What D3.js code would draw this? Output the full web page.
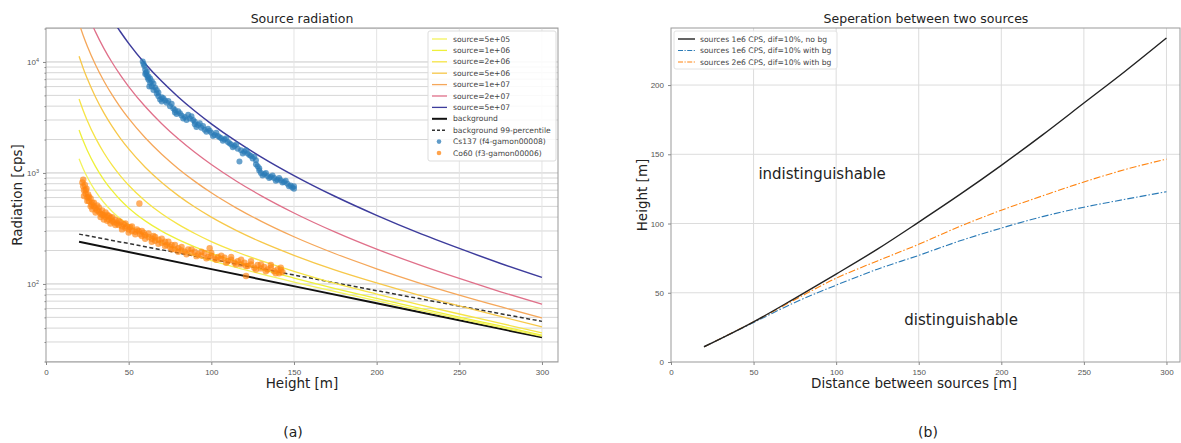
<!DOCTYPE html>
<html>
<head>
<meta charset="utf-8">
<script src="https://cdn.jsdelivr.net/npm/d3@7"></script>
<style>
  body { margin: 0; background: #fff; }
  svg { font-family: "DejaVu Sans", sans-serif; }
  .tick text { fill: #555; font-size: 8px; }
  .tick line { stroke: #888; }
  .domain { display: none; }
</style>
</head>
<body>
<svg id="chart" width="1181" height="443"></svg>
<script>
// ---- panel (a) data: radiation vs height ----
const heights = [20, 22.5, 25, 30, 35, 40, 45, 50, 60, 70, 80, 90, 100, 115, 130, 150, 175, 200, 225, 250, 275, 300];
const src5e5 = [1340, 1091, 914, 682, 542, 450, 386, 339, 276, 234, 204, 181, 162, 141, 123, 104, 85.4, 70.6, 58.5, 48.7, 40.6, 33.8];
const src1e6 = [2440, 1946, 1595, 1141, 868, 692, 571, 484, 370, 299, 251, 216, 189, 159, 136, 113, 90.8, 74.1, 60.9, 50.3, 41.8, 34.6];
const src2e6 = [4640, 3657, 2959, 2058, 1521, 1176, 942, 775, 559, 429, 344, 285, 241, 195, 162, 130, 101, 81, 65.6, 53.6, 44.1, 36.3];
const src5e6 = [11240, 8788, 7049, 4809, 3479, 2627, 2053, 1646, 1127, 821, 625, 493, 400, 304, 239, 181, 133, 102, 79.6, 63.3, 50.9, 41.1];
const src1e7 = [22240, 17340, 13866, 9394, 6741, 5046, 3904, 3098, 2073, 1473, 1093, 840, 663, 485, 368, 266, 187, 137, 103, 79.4, 62.3, 49.3];
const src2e7 = [44240, 34444, 27500, 18564, 13266, 9884, 7607, 6002, 3965, 2777, 2030, 1534, 1191, 847, 625, 436, 293, 206, 150, 112, 85, 65.6];
const src5e7 = [110240, 85756, 68402, 46074, 32841, 24398, 18716, 14714, 9641, 6689, 4839, 3616, 2773, 1934, 1398, 947, 613, 415, 290, 209, 153, 114.5];
const sourceLabels = ["source=5e+05", "source=1e+06", "source=2e+06", "source=5e+06", "source=1e+07", "source=2e+07", "source=5e+07"];
const sourceColors = ["#f3f35c", "#eef03a", "#f6e446", "#f7c84a", "#f5a75a", "#e0708a", "#3d3c9c"];

const bgHeights = [20, 100, 200, 300];
const bgValues = [240, 136, 67, 33];
const bg99Values = [281, 167, 87, 46];

// Cs137 (f4-gamon00008) measured points [height, cps]
const cs137 = [[58.5, 10100], [59.5, 9200], [60, 8500], [60.5, 8000], [61, 7600], [61.5, 7200], [62, 6900], [62.5, 6000],
  [63, 7100], [64, 6700], [65, 6400], [66, 5900], [67, 5200], [68, 4900], [69, 4600], [70, 4400], [71, 4700], [72, 4500],
  [74, 4450], [76, 4200], [77, 3800], [78, 3500], [79, 3400], [80, 3600], [82, 3300], [84, 3200], [86, 3350], [88, 3250],
  [89, 3000], [90, 2750], [91, 2600], [92, 2700], [94, 2550], [96, 2450], [98, 2500], [100, 2300], [102, 2200], [104, 2150],
  [106, 2050], [108, 2000], [110, 1900], [112, 1800], [114, 1750], [116, 1650], [117, 1270], [118, 1600], [120, 1550],
  [122, 1500], [124, 1420], [126, 1400], [127, 1300], [128, 1150], [129, 1050], [130, 1000], [132, 980], [134, 940],
  [136, 920], [138, 900], [140, 870], [142, 860], [144, 830], [146, 800], [148, 770], [149, 740], [150, 720],
  [59, 9600], [60, 7800], [61, 8200], [62, 7400], [63, 6500], [64, 6000], [65, 5600], [67, 5600], [68, 5300], [70, 4800],
  [73, 4300], [75, 4000], [78, 3700], [81, 3450], [83, 3100], [85, 3000], [87, 3100], [90, 2900], [93, 2800], [95, 2650],
  [97, 2350], [99, 2400], [101, 2150], [103, 2300], [105, 2100], [107, 1950], [109, 2050], [111, 1850], [113, 1700],
  [115, 1800], [119, 1500], [121, 1600], [123, 1450], [125, 1350], [127, 1200], [129, 1100], [131, 950], [133, 1000],
  [135, 900], [137, 950], [139, 850], [141, 900], [143, 820], [145, 850], [147, 760], [150, 760]];

// Co60 (f3-gamon00006) measured points [height, cps]
const co60 = [[22, 820], [22.5, 760], [23, 700], [23.5, 780], [24, 650], [24.5, 720], [25, 600], [25.5, 640], [26, 560],
  [27, 590], [27.5, 520], [28, 540], [29, 500], [30, 480], [31, 510], [32, 450], [33, 430], [34, 460], [35, 415], [36, 400],
  [37, 420], [38, 380], [39, 395], [40, 370], [41, 360], [42, 380], [43, 350], [44, 340], [45, 360], [46, 330], [47, 345],
  [48, 320], [49, 330], [50, 310], [51, 325], [52, 300], [54, 295], [55, 310], [56.5, 530], [57, 280], [58, 270], [59, 290],
  [60, 275], [62, 265], [64, 255], [65, 270], [66, 245], [68, 250], [70, 235], [72, 240], [73, 225], [75, 215], [76, 225],
  [78, 205], [80, 210], [82, 200], [84, 195], [86, 205], [88, 190], [90, 195], [92, 185], [94, 180], [96, 190], [98, 175],
  [99, 210], [100, 180], [102, 170], [104, 175], [106, 168], [108, 172], [110, 160], [112, 165], [114, 155], [116, 160],
  [118, 150], [120, 155], [121, 118], [122, 145], [124, 150], [126, 140], [128, 148], [130, 138], [132, 142], [134, 135],
  [136, 140], [138, 130], [140, 135], [141, 125], [142, 132], [143, 128],
  [22.5, 870], [23, 620], [24, 700], [25, 560], [26, 610], [27, 500], [28, 470], [29, 540], [30, 440], [31, 460], [32, 490],
  [33, 400], [34, 420], [35, 380], [36, 440], [37, 370], [38, 410], [39, 350], [40, 400], [42, 340], [44, 370], [46, 310],
  [48, 350], [50, 290], [52, 330], [54, 280], [56, 300], [58, 300], [60, 255], [62, 285], [64, 240], [66, 265], [68, 230],
  [70, 255], [72, 220], [74, 240], [76, 205], [78, 225], [80, 195], [82, 215], [85, 185], [88, 205], [91, 178], [94, 195],
  [97, 170], [100, 190], [103, 165], [106, 180], [109, 155], [112, 175], [115, 150], [118, 165], [121, 145], [124, 160],
  [127, 135], [130, 150], [133, 130], [136, 148], [139, 125], [142, 140]];

// ---- panel (b) data: separation between two sources ----
const distances = [20, 50, 75, 100, 125, 150, 175, 200, 225, 250, 275, 300];
const noBg1e6 = [11, 29, 46, 63.5, 81.5, 101, 121, 142, 164, 187, 210, 234];
const withBg1e6 = [11, 28.5, 43, 55.5, 67, 77, 87.5, 96.7, 105, 111.8, 117.5, 123];
const withBg2e6 = [11, 29, 45, 60.5, 73, 85, 98, 109.6, 120, 130, 139, 146.5];

const svg = d3.select("#chart");

// ================= panel (a) =================
const a = {left: 46, right: 558, top: 28, bottom: 362};
const xA = d3.scaleLinear().domain([0, 309.7]).range([a.left, a.right]);
const yA = d3.scaleLog().domain([19.8, 20230]).range([a.bottom, a.top]);

const gA = svg.append("g");
gA.append("clipPath").attr("id", "clipA")
  .append("rect").attr("x", a.left).attr("y", a.top)
  .attr("width", a.right - a.left).attr("height", a.bottom - a.top);

// grid
const minorA = [];
[10, 100, 1000, 10000].forEach(dec => {
  for (let m = 1; m <= 9; m++) {
    const v = dec * m;
    if (v >= 19.8 && v <= 20230) minorA.push(v);
  }
});
gA.append("g").selectAll("line").data(minorA).join("line")
  .attr("x1", a.left).attr("x2", a.right)
  .attr("y1", d => yA(d)).attr("y2", d => yA(d))
  .attr("stroke", d => [100, 1000, 10000].includes(d) ? "#c8c8c8" : "#d6d6d6")
  .attr("stroke-width", 1);
gA.append("g").selectAll("line").data(d3.range(50, 301, 50)).join("line")
  .attr("x1", d => xA(d)).attr("x2", d => xA(d))
  .attr("y1", a.top).attr("y2", a.bottom)
  .attr("stroke", "#e4e4e4").attr("stroke-width", 1);

// frame
gA.append("rect").attr("x", a.left).attr("y", a.top)
  .attr("width", a.right - a.left).attr("height", a.bottom - a.top)
  .attr("fill", "none").attr("stroke", "#999").attr("stroke-width", 1);

// axes
gA.append("g").attr("transform", `translate(0,${a.bottom})`)
  .call(d3.axisBottom(xA).tickValues(d3.range(0, 301, 50)).tickSize(3).tickPadding(4));
const yAxisA = gA.append("g").attr("transform", `translate(${a.left},0)`)
  .call(d3.axisLeft(yA).tickValues([100, 1000, 10000]).tickSize(3).tickPadding(4).tickFormat(""));
yAxisA.selectAll(".tick text").each(function(d) {
  const t = d3.select(this).attr("dy", "0.32em");
  t.append("tspan").text("10");
  t.append("tspan").attr("dy", "-0.5em").attr("font-size", "5.5px").text(Math.round(Math.log10(d)));
});
gA.append("g").attr("transform", `translate(${a.left},0)`)
  .call(d3.axisLeft(yA).tickValues(minorA.filter(v => ![100, 1000, 10000].includes(v))).tickSize(1.5).tickFormat(""));

// curves
const plotA = gA.append("g").attr("clip-path", "url(#clipA)");
const lineA = d3.line().x(d => xA(d[0])).y(d => yA(d[1])).curve(d3.curveMonotoneX);
const sources = [src5e5, src1e6, src2e6, src5e6, src1e7, src2e7, src5e7];

plotA.append("path").datum(bgHeights.map((h, i) => [h, bgValues[i]]))
  .attr("d", lineA).attr("fill", "none").attr("stroke", "#111").attr("stroke-width", 2);
plotA.append("path").datum(bgHeights.map((h, i) => [h, bg99Values[i]]))
  .attr("d", lineA).attr("fill", "none").attr("stroke", "#333").attr("stroke-width", 1.5)
  .attr("stroke-dasharray", "4,2.5");

sources.forEach((vals, k) => {
  plotA.append("path").datum(heights.map((h, i) => [h, vals[i]]))
    .attr("d", lineA).attr("fill", "none")
    .attr("stroke", sourceColors[k]).attr("stroke-width", k === 6 ? 1.5 : 1.3);
});

plotA.append("g").selectAll("circle").data(cs137).join("circle")
  .attr("cx", d => xA(d[0])).attr("cy", d => yA(d[1])).attr("r", 3)
  .attr("fill", "#2a7ab6").attr("opacity", 0.7);
plotA.append("g").selectAll("circle").data(co60).join("circle")
  .attr("cx", d => xA(d[0])).attr("cy", d => yA(d[1])).attr("r", 3.2)
  .attr("fill", "#ff8410").attr("opacity", 0.65);

// legend (a)
const legA = gA.append("g");
legA.append("rect").attr("x", 428).attr("y", 31).attr("width", 128).attr("height", 130)
  .attr("fill", "#fff").attr("fill-opacity", 0.85).attr("stroke", "#ddd").attr("rx", 2);
const legItems = sourceLabels.map((l, k) => ({label: l, type: "line", color: sourceColors[k], w: 1.3}))
  .concat([
    {label: "background", type: "line", color: "#111", w: 2},
    {label: "background 99-percentile", type: "dash", color: "#333", w: 1.5},
    {label: "Cs137 (f4-gamon00008)", type: "dot", color: "#2a7ab6"},
    {label: "Co60 (f3-gamon00006)", type: "dot", color: "#ff8410"}
  ]);
legItems.forEach((it, i) => {
  const yy = 39 + i * 11.4;
  if (it.type === "dot") {
    legA.append("circle").attr("cx", 439).attr("cy", yy).attr("r", 2.3)
      .attr("fill", it.color).attr("opacity", 0.75);
  } else {
    legA.append("line").attr("x1", 432).attr("x2", 447).attr("y1", yy).attr("y2", yy)
      .attr("stroke", it.color).attr("stroke-width", it.w)
      .attr("stroke-dasharray", it.type === "dash" ? "3,2" : null);
  }
  legA.append("text").attr("x", 453).attr("y", yy).attr("dy", "0.33em")
    .attr("font-size", "7.6px").attr("fill", "#444").text(it.label);
});

// labels (a)
svg.append("text").attr("x", (a.left + a.right) / 2).attr("y", 23).attr("text-anchor", "middle")
  .attr("font-size", "12.5px").attr("fill", "#222").text("Source radiation");
svg.append("text").attr("x", (a.left + a.right) / 2).attr("y", 388).attr("text-anchor", "middle")
  .attr("font-size", "13.5px").attr("fill", "#222").text("Height [m]");
svg.append("text").attr("transform", `translate(22,${(a.top + a.bottom) / 2}) rotate(-90)`)
  .attr("text-anchor", "middle").attr("font-size", "13.5px").attr("fill", "#222").text("Radiation [cps]");
svg.append("text").attr("x", 293).attr("y", 437).attr("text-anchor", "middle")
  .attr("font-size", "14px").attr("fill", "#222").text("(a)");

// ================= panel (b) =================
const b = {left: 671, right: 1180, top: 28, bottom: 362};
const xB = d3.scaleLinear().domain([0, 308.2]).range([b.left, b.right]);
const yB = d3.scaleLinear().domain([0, 241.2]).range([b.bottom, b.top]);
const gB = svg.append("g");

gB.append("g").selectAll("line").data(d3.range(50, 301, 50)).join("line")
  .attr("x1", d => xB(d)).attr("x2", d => xB(d)).attr("y1", b.top).attr("y2", b.bottom)
  .attr("stroke", "#dcdcdc");
gB.append("g").selectAll("line").data(d3.range(50, 201, 50)).join("line")
  .attr("x1", b.left).attr("x2", b.right).attr("y1", d => yB(d)).attr("y2", d => yB(d))
  .attr("stroke", "#dcdcdc");
gB.append("rect").attr("x", b.left).attr("y", b.top)
  .attr("width", b.right - b.left).attr("height", b.bottom - b.top)
  .attr("fill", "none").attr("stroke", "#999");

gB.append("g").attr("transform", `translate(0,${b.bottom})`)
  .call(d3.axisBottom(xB).tickValues(d3.range(0, 301, 50)).tickSize(3).tickPadding(4));
gB.append("g").attr("transform", `translate(${b.left},0)`)
  .call(d3.axisLeft(yB).tickValues(d3.range(0, 201, 50)).tickSize(3).tickPadding(4));

const lineB = d3.line().x(d => xB(d[0])).y(d => yB(d[1])).curve(d3.curveMonotoneX);
gB.append("path").datum(distances.map((d, i) => [d, withBg1e6[i]]))
  .attr("d", lineB).attr("fill", "none").attr("stroke", "#2a7ab6").attr("stroke-width", 1.1)
  .attr("stroke-dasharray", "7,2,1.5,2");
gB.append("path").datum(distances.map((d, i) => [d, withBg2e6[i]]))
  .attr("d", lineB).attr("fill", "none").attr("stroke", "#ff8410").attr("stroke-width", 1.1)
  .attr("stroke-dasharray", "7,2,1.5,2");
gB.append("path").datum(distances.map((d, i) => [d, noBg1e6[i]]))
  .attr("d", lineB).attr("fill", "none").attr("stroke", "#222").attr("stroke-width", 1.4);

gB.append("text").attr("x", xB(91.5)).attr("y", yB(132)).attr("text-anchor", "middle")
  .attr("font-size", "15px").attr("fill", "#222").text("indistinguishable");
gB.append("text").attr("x", xB(175.7)).attr("y", yB(27)).attr("text-anchor", "middle")
  .attr("font-size", "15px").attr("fill", "#222").text("distinguishable");

// legend (b)
const legB = gB.append("g");
legB.append("rect").attr("x", 674).attr("y", 31).attr("width", 163).attr("height", 38)
  .attr("fill", "#fff").attr("fill-opacity", 0.85).attr("stroke", "#e2e2e2").attr("rx", 2);
const legBItems = [
  {label: "sources 1e6 CPS, dif=10%, no bg", color: "#222", dash: null, w: 1.4},
  {label: "sources 1e6 CPS, dif=10% with bg", color: "#2a7ab6", dash: "5,1.5,1.2,1.5", w: 1.1},
  {label: "sources 2e6 CPS, dif=10% with bg", color: "#ff8410", dash: "5,1.5,1.2,1.5", w: 1.1}
];
legBItems.forEach((it, i) => {
  const yy = 39 + i * 11.5;
  legB.append("line").attr("x1", 678).attr("x2", 695).attr("y1", yy).attr("y2", yy)
    .attr("stroke", it.color).attr("stroke-width", it.w).attr("stroke-dasharray", it.dash);
  legB.append("text").attr("x", 700).attr("y", yy).attr("dy", "0.33em")
    .attr("font-size", "7.6px").attr("fill", "#444").text(it.label);
});

svg.append("text").attr("x", 926).attr("y", 23).attr("text-anchor", "middle")
  .attr("font-size", "12.5px").attr("fill", "#222").text("Seperation between two sources");
svg.append("text").attr("x", 914).attr("y", 388).attr("text-anchor", "middle")
  .attr("font-size", "13.5px").attr("fill", "#222").text("Distance between sources [m]");
svg.append("text").attr("transform", `translate(647,${(b.top + b.bottom) / 2}) rotate(-90)`)
  .attr("text-anchor", "middle").attr("font-size", "13.5px").attr("fill", "#222").text("Height [m]");
svg.append("text").attr("x", 928).attr("y", 437).attr("text-anchor", "middle")
  .attr("font-size", "14px").attr("fill", "#222").text("(b)");
</script>
</body>
</html>
